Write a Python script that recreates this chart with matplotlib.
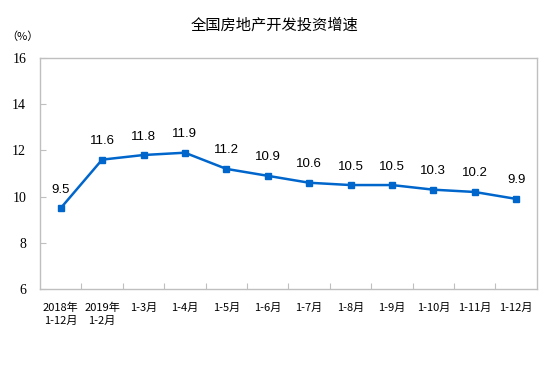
import matplotlib.pyplot as plt

# datos
meses = ["2018年\n1-12月", "2019年\n1-2月", "1-3月", "1-4月", "1-5月", "1-6月",
         "1-7月", "1-8月", "1-9月", "1-10月", "1-11月", "1-12月"]
crecimiento = [9.5, 11.6, 11.8, 11.9, 11.2, 10.9, 10.6, 10.5, 10.5, 10.3, 10.2, 9.9]
y_ticks = [6, 8, 10, 12, 14, 16]

plt.rcParams['font.family'] = ['Noto Sans CJK SC', 'DejaVu Sans']

fig = plt.figure(figsize=(5.54, 3.67), dpi=100)
ax = fig.add_axes([0.0722, 0.2125, 0.8968, 0.6295])

x = list(range(len(meses)))
ax.plot(x, crecimiento, color="#0066CC", lw=1.8, marker="s", markersize=5)

# etiquetas de valores
for i, v in enumerate(crecimiento):
    ax.annotate(f"{v}", (i, v), xytext=(0, 9), textcoords="offset points",
                ha="center", va="bottom", fontsize=9.5, family="Liberation Sans")

ax.set_xlim(-0.5, len(meses) - 0.5)
ax.set_ylim(6, 16)
ax.set_yticks(y_ticks)
ax.set_yticklabels([str(t) for t in y_ticks], family="Liberation Serif", fontsize=10)

# ticks del eje x entre categorias
ax.set_xticks([i + 0.5 for i in range(len(meses) - 1)])
ax.set_xticklabels([])
ax.set_xticks(x, minor=True)
ax.set_xticklabels(meses, minor=True, fontsize=8, linespacing=1.35, va="top")
ax.tick_params(axis="x", which="minor", length=0, pad=10)
ax.tick_params(axis="x", which="major", direction="in", length=4, color="#BFBFBF")
ax.tick_params(axis="y", direction="in", length=4, color="#BFBFBF", pad=10)

for s in ax.spines.values():
    s.set_color("#BFBFBF")
    s.set_linewidth(1)

fig.text(0.496, 0.932, "全国房地产开发投资增速", ha="center", va="center", fontsize=11)
fig.text(0.04, 0.9, "（%）", ha="center", va="center", fontsize=8)

plt.savefig("out.png", dpi=100)
